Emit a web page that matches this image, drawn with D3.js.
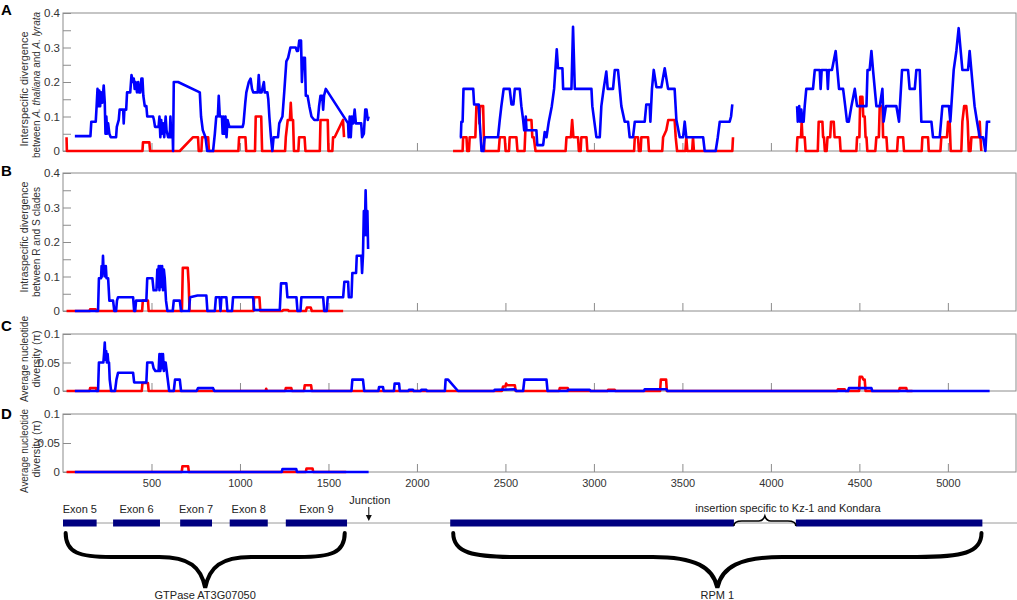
<!DOCTYPE html>
<html>
<head>
<meta charset="utf-8">
<script src="https://cdn.jsdelivr.net/npm/d3@7"></script>
<style>
  body { margin: 0; background: #fff; }
  text { font-family: "Liberation Sans", Arial, sans-serif; }
</style>
</head>
<body>
<svg id="chart" width="1017" height="600"></svg>
<script>
// ---- data: [position (bp), value] ----
const xTicks = [500, 1000, 1500, 2000, 2500, 3000, 3500, 4000, 4500, 5000];

// panel A, interspecific divergence (three aligned blocks)
const aBlue1 = [[67,0.043],[155,0.043],[160,0.085],[185,0.085],[190,0.13],[195,0.18],[200,0.13],[205,0.175],[210,0.13],[215,0.17],[222,0.14],[230,0.19],[236,0.14],[240,0.05],[245,0.1],[250,0.05],[255,0.08],[262,0.05],[270,0.04],[300,0.04],[304,0.07],[315,0.09],[320,0.12],[340,0.12],[343,0.08],[347,0.12],[357,0.12],[362,0.17],[380,0.17],[387,0.22],[395,0.2],[400,0.21],[405,0.18],[410,0.2],[418,0.17],[425,0.2],[430,0.17],[437,0.17],[443,0.21],[449,0.21],[454,0.16],[462,0.13],[471,0.13],[476,0.1],[509,0.1],[514,0.09],[520,0.07],[540,0.07],[545,0.1],[550,0.04],[555,0.09],[560,0.05],[565,0.08],[572,0.04],[580,0.1],[585,0.06],[594,0.04],[603,0.04],[607,0.1],[612,0.04],[620,0.04],[622,0],[626,0.2],[650,0.2],[773,0.17],[780,0.1],[790,0.06],[805,0.04],[815,0],[848,0],[858,0.05],[866,0.1],[875,0.1],[880,0.16],[886,0.1],[898,0.1],[902,0.05],[906,0.1],[912,0.05],[918,0.1],[924,0.04],[930,0.09],[940,0.07],[1015,0.07],[1020,0.08],[1030,0.14],[1036,0.17],[1050,0.2],[1060,0.21],[1068,0.18],[1075,0.17],[1100,0.17],[1106,0.22],[1112,0.17],[1122,0.17],[1135,0.2],[1140,0.17],[1155,0.17],[1160,0.15],[1166,0.1],[1175,0.04],[1183,0],[1190,0.04],[1215,0.04],[1222,0.08],[1240,0.1],[1250,0.17],[1262,0.26],[1272,0.27],[1285,0.3],[1315,0.3],[1322,0.29],[1328,0.29],[1335,0.32],[1345,0.32],[1350,0.2],[1357,0.27],[1367,0.27],[1372,0.16],[1382,0.16],[1392,0.13],[1404,0.1],[1420,0.09],[1440,0.09],[1447,0.13],[1455,0.16],[1465,0.16],[1470,0.12],[1475,0.16],[1485,0.18],[1611,0.08],[1614,0.04],[1620,0.1],[1626,0.04],[1632,0.1],[1640,0.08],[1648,0.12],[1655,0.08],[1685,0.08],[1690,0.04],[1700,0.05],[1708,0.12],[1715,0.12],[1722,0.09],[1727,0.1]];
const aBlue2 = [[2242,0.04],[2248,0.04],[2251,0.085],[2258,0.085],[2263,0.18],[2318,0.18],[2323,0.135],[2349,0.135],[2355,0.08],[2365,0],[2375,0],[2383,0.04],[2458,0.04],[2468,0.09],[2477,0.13],[2490,0.18],[2524,0.18],[2534,0.135],[2545,0.135],[2553,0.18],[2581,0.18],[2590,0.13],[2600,0.09],[2606,0.06],[2612,0.06],[2615,0.1],[2619,0.06],[2675,0.06],[2680,0.017],[2713,0.017],[2722,0.055],[2732,0.04],[2745,0.085],[2762,0.13],[2775,0.18],[2790,0.295],[2797,0.24],[2822,0.24],[2826,0.18],[2873,0.18],[2882,0.36],[2892,0.18],[2986,0.18],[2991,0.13],[3014,0.04],[3033,0.04],[3042,0.13],[3055,0.18],[3070,0.23],[3078,0.18],[3108,0.18],[3118,0.235],[3136,0.235],[3155,0.13],[3174,0.085],[3193,0.085],[3202,0.04],[3221,0.04],[3231,0.085],[3287,0.085],[3296,0.135],[3315,0.135],[3319,0.085],[3328,0.18],[3338,0.235],[3353,0.185],[3381,0.185],[3400,0.24],[3419,0.18],[3456,0.18],[3466,0.09],[3485,0.04],[3504,0.04],[3513,0.085],[3522,0.04],[3617,0.04],[3626,0],[3688,0],[3700,0.04],[3711,0.085],[3767,0.085],[3775,0.1],[3782,0.135]];
const aBlue3 = [[4148,0.13],[4152,0.085],[4160,0.13],[4165,0.085],[4172,0.12],[4178,0.085],[4185,0.085],[4191,0.13],[4200,0.18],[4238,0.18],[4248,0.235],[4276,0.235],[4281,0.18],[4287,0.235],[4317,0.235],[4322,0.18],[4327,0.235],[4345,0.235],[4366,0.29],[4385,0.18],[4408,0.18],[4420,0.13],[4430,0.085],[4440,0.085],[4455,0.13],[4474,0.18],[4487,0.13],[4540,0.13],[4546,0.235],[4558,0.235],[4568,0.29],[4577,0.235],[4596,0.13],[4615,0.13],[4630,0.18],[4637,0.085],[4650,0.13],[4709,0.13],[4724,0.085],[4741,0.235],[4775,0.235],[4784,0.18],[4813,0.18],[4822,0.235],[4841,0.235],[4850,0.085],[4907,0.085],[4916,0.04],[4954,0.04],[4969,0.13],[5006,0.13],[5014,0.085],[5033,0.235],[5048,0.29],[5061,0.356],[5082,0.235],[5114,0.235],[5123,0.29],[5142,0.18],[5151,0.13],[5165,0.085],[5180,0.04],[5199,0.04],[5212,0],[5221,0.085],[5240,0.085]];
const aRed1 = [[20,0.04],[22,0],[449,0],[452,0.025],[488,0.025],[492,0],[660,0],[735,0.04],[763,0.04],[767,0],[782,0],[786,0.04],[820,0.04],[825,0],[991,0],[995,0.04],[1031,0.04],[1035,0],[1085,0],[1089,0.1],[1120,0.1],[1125,0],[1255,0],[1259,0.04],[1270,0.09],[1282,0.09],[1287,0.14],[1292,0.09],[1300,0.09],[1305,0],[1330,0],[1334,0.04],[1365,0.04],[1370,0],[1451,0],[1455,0.09],[1496,0.09],[1500,0],[1522,0],[1526,0.04],[1535,0.04],[1582,0.09],[1588,0.04]];
const aRed2 = [[2204,0],[2258,0],[2261,0.04],[2280,0.04],[2284,0],[2294,0],[2298,0.04],[2317,0.04],[2330,0.04],[2336,0.13],[2350,0.13],[2353,0.08],[2357,0.13],[2374,0.13],[2380,0],[2462,0],[2468,0.04],[2496,0.04],[2501,0],[2520,0],[2524,0.04],[2562,0.04],[2568,0],[2608,0],[2615,0.09],[2647,0.09],[2652,0.04],[2660,0.04],[2670,0],[2840,0],[2845,0.04],[2863,0.04],[2870,0.04],[2877,0.09],[2884,0.04],[2910,0.04],[2915,0],[2925,0],[2929,0.04],[2958,0.04],[2963,0],[3227,0],[3231,0.04],[3249,0.04],[3254,0],[3264,0],[3268,0.04],[3306,0.04],[3311,0],[3386,0],[3391,0.04],[3409,0.06],[3420,0.09],[3456,0.09],[3462,0.04],[3470,0],[3517,0],[3522,0.04],[3528,0],[3555,0],[3560,0.04],[3565,0],[3782,0],[3786,0.04]];
const aRed3 = [[4140,0],[4146,0],[4150,0.04],[4170,0.04],[4174,0.085],[4178,0.04],[4191,0.04],[4196,0],[4265,0],[4270,0.085],[4291,0.085],[4295,0.04],[4300,0.04],[4305,0],[4315,0],[4320,0.04],[4335,0.04],[4340,0.085],[4355,0.085],[4360,0.04],[4389,0.04],[4394,0],[4483,0],[4487,0.04],[4500,0.04],[4505,0.157],[4517,0.157],[4522,0.1],[4530,0.1],[4535,0.04],[4540,0.04],[4545,0],[4590,0],[4596,0.04],[4610,0.04],[4615,0.13],[4630,0.13],[4634,0.04],[4653,0.04],[4658,0],[4713,0],[4718,0.04],[4747,0.04],[4752,0],[4852,0],[4856,0.04],[4888,0.04],[4892,0],[4958,0],[4963,0.04],[4995,0.04],[5001,0.085],[5010,0.085],[5016,0],[5076,0],[5082,0.085],[5092,0.13],[5104,0.13],[5112,0.085],[5118,0],[5128,0],[5133,0.04],[5176,0.04],[5180,0.085],[5184,0.04],[5189,0]];

// panel B, intraspecific divergence R vs S
const bBlue = [[67,0],[198,0],[203,0.095],[215,0.095],[218,0.13],[222,0.1],[226,0.16],[230,0.11],[234,0.13],[238,0.1],[242,0.13],[246,0.095],[255,0.095],[262,0.03],[283,0.03],[290,0],[300,0],[305,0.03],[311,0.04],[396,0.04],[402,0],[408,0],[413,0.03],[471,0.03],[476,0.095],[505,0.095],[512,0.06],[528,0.06],[533,0.12],[537,0.07],[541,0.13],[545,0.06],[550,0.13],[555,0.07],[560,0.13],[565,0.06],[570,0.12],[575,0.095],[582,0.03],[590,0],[620,0],[626,0.03],[660,0.03],[667,0],[712,0],[718,0.04],[760,0.045],[810,0.045],[816,0],[858,0],[864,0.04],[885,0.04],[890,0],[895,0.04],[923,0.04],[929,0],[955,0],[961,0.04],[1074,0.04],[1080,0.003],[1225,0.003],[1232,0.08],[1262,0.08],[1268,0.04],[1319,0.04],[1325,0],[1342,0],[1347,0.04],[1470,0.04],[1476,0],[1490,0],[1496,0.04],[1583,0.04],[1590,0.085],[1611,0.085],[1615,0.04],[1630,0.04],[1635,0.11],[1656,0.11],[1660,0.16],[1686,0.16],[1690,0.11],[1695,0.16],[1700,0.29],[1705,0.22],[1710,0.35],[1716,0.22],[1720,0.29],[1724,0.18]];
const bRed = [[20,0],[150,0],[153,0.005],[185,0.005],[188,0],[447,0],[451,0.03],[480,0.03],[484,0],[672,0],[677,0.125],[705,0.125],[710,0.08],[715,0],[1076,0],[1080,0.04],[1110,0.04],[1115,0],[1240,0],[1245,0.003],[1272,0.003],[1276,0],[1372,0],[1378,0.01],[1400,0.01],[1406,0],[1583,0]];

// panel C, nucleotide diversity
const cBlue = [[67,0],[198,0],[203,0.05],[228,0.05],[232,0.065],[236,0.085],[240,0.055],[244,0.07],[248,0.05],[252,0.065],[256,0.05],[260,0.05],[264,0.02],[272,0],[294,0],[302,0.02],[311,0.032],[396,0.032],[402,0.015],[471,0.015],[476,0.05],[505,0.05],[512,0.04],[522,0.035],[540,0.035],[545,0.065],[550,0.035],[555,0.065],[560,0.04],[565,0.065],[570,0.035],[575,0.05],[580,0.05],[600,0],[626,0],[633,0.02],[660,0.02],[667,0],[755,0],[763,0.005],[848,0.005],[855,0],[1630,0],[1635,0.02],[1695,0.02],[1702,0],[1782,0],[1786,0.007],[1808,0.007],[1812,0],[1870,0],[1874,0.013],[1899,0.013],[1903,0],[1952,0],[1955,0.002],[1978,0.002],[1982,0],[2022,0],[2025,0.002],[2053,0.002],[2057,0],[2158,0],[2162,0.02],[2176,0.02],[2232,0],[2436,0],[2439,0.002],[2553,0.003],[2562,0],[2600,0],[2607,0.02],[2732,0.02],[2738,0],[2850,0],[2854,0.002],[2976,0.002],[2982,0],[3283,0],[3287,0.003],[3410,0.003],[3416,0],[4436,0],[4441,0.005],[4568,0.005],[4573,0],[5236,0]];
const cRed = [[20,0],[150,0],[153,0.005],[187,0.005],[190,0],[445,0],[449,0.014],[480,0.014],[484,0],[1145,0],[1148,0.004],[1152,0],[1255,0],[1259,0.005],[1290,0.005],[1294,0],[1362,0],[1366,0.01],[1402,0.01],[1406,0],[2480,0],[2487,0.008],[2500,0.008],[2504,0.013],[2510,0.01],[2553,0.01],[2558,0],[2803,0],[2807,0.005],[2852,0.005],[2856,0],[3076,0],[3080,0.002],[3118,0.002],[3122,0],[3374,0],[3378,0.02],[3408,0.02],[3412,0],[4375,0],[4379,0.003],[4417,0.003],[4421,0],[4498,0],[4502,0.025],[4515,0.025],[4522,0.02],[4530,0.02],[4535,0],[4724,0],[4728,0.005],[4765,0.005],[4769,0],[4800,0]];

// panel D, nucleotide diversity
const dBlue = [[67,0],[1236,0],[1240,0.005],[1318,0.005],[1322,0],[1727,0]];
const dRed = [[20,0],[671,0],[675,0.01],[707,0.01],[711,0],[1372,0],[1376,0.006],[1410,0.006],[1414,0],[1600,0]];

// gene structure
const exonStarts = [0, 283, 662, 942, 1259];
const exonEnds = [190, 548, 842, 1157, 1605];
const exonLabels = ["Exon 5", "Exon 6", "Exon 7", "Exon 8", "Exon 9"];
const rpmStarts = [2188, 4141];
const rpmEnds = [3791, 5195];
const junctionPos = 1728;
const braceRanges = [[15, 1592], [2205, 5190]];
const braceLabels = ["GTPase AT3G07050", "RPM 1"];
const insertionRange = [3791, 4141];

// ---- drawing ----
const svg = d3.select("#chart");
const blue = "#0000ff", red = "#ff0000", frame = "#8c8c8c", ink = "#333";

const x = d3.scaleLinear().domain([0, 5385]).range([63, 1016]);

// title: two rotated lines; len = drawn length, cy = centre of each line
const panels = [
  { letter: "A", letterY: 15, top: 13, bottom: 151, max: 0.4, ticks: d3.range(0, 0.401, 0.05), labelEvery: 0.1,
    lines: [aRed1, aRed2, aRed3, aBlue1, aBlue2, aBlue3], colors: [red, red, red, blue, blue, blue],
    title: ["Interspecific divergence", "between |A. thaliana| and |A. lyrata|"], len: [115, 146], cy: [89, 85], xLabels: false },
  { letter: "B", letterY: 176, top: 173, bottom: 311, max: 0.4, ticks: d3.range(0, 0.401, 0.05), labelEvery: 0.1,
    lines: [bRed, bBlue], colors: [red, blue],
    title: ["Intraspecific divergence", "between R and S clades"], len: [111, 110], cy: [237, 242], xLabels: false },
  { letter: "C", letterY: 331, top: 334, bottom: 391, max: 0.1, ticks: [0, 0.05, 0.1], labelEvery: 0.05,
    lines: [cRed, cBlue], colors: [red, blue],
    title: ["Average nucleotide", "diversity (\u03c0)"], len: [86, 57], cy: [359, 359], xLabels: false },
  { letter: "D", letterY: 419, top: 414, bottom: 472, max: 0.1, ticks: [0, 0.05, 0.1], labelEvery: 0.05,
    lines: [dRed, dBlue], colors: [red, blue],
    title: ["Average nucleotide", "diversity (\u03c0)"], len: [84, 57], cy: [451, 449], xLabels: true }
];

const fmt = v => {
  const r = Math.round(v * 1000) / 1000;
  return r === 0 ? "0" : String(r);
};

panels.forEach(p => {
  const y = d3.scaleLinear().domain([0, p.max]).range([p.bottom, p.top]);
  const g = svg.append("g");

  // frame
  g.append("rect")
    .attr("x", x.range()[0]).attr("y", p.top)
    .attr("width", x.range()[1] - x.range()[0]).attr("height", p.bottom - p.top)
    .attr("fill", "none").attr("stroke", frame).attr("stroke-width", 1);

  // y axis, ticks pointing inward
  const yAxis = d3.axisLeft(y)
    .tickValues(p.ticks)
    .tickSizeInner(-8).tickSizeOuter(0).tickPadding(3)
    .tickFormat(v => {
      const k = v / p.labelEvery;
      return Math.abs(k - Math.round(k)) < 1e-6 ? fmt(v) : "";
    });
  const ya = g.append("g").attr("transform", `translate(${x.range()[0]},0)`).call(yAxis);
  ya.select(".domain").remove();
  ya.selectAll("line").attr("stroke", frame);
  ya.selectAll("text").attr("fill", ink).style("font-size", "11.5px")
    .style("font-family", '"Liberation Sans", Arial, sans-serif');

  // x axis ticks
  const xAxis = d3.axisBottom(x)
    .tickValues(xTicks)
    .tickSizeInner(-8).tickSizeOuter(0).tickPadding(7)
    .tickFormat(p.xLabels ? d3.format("d") : () => "");
  const xa = g.append("g").attr("transform", `translate(0,${p.bottom})`).call(xAxis);
  xa.select(".domain").remove();
  xa.selectAll("line").attr("stroke", frame);
  xa.selectAll("text").attr("fill", ink).style("font-size", "11px")
    .style("font-family", '"Liberation Sans", Arial, sans-serif');

  // series
  const line = d3.line().x(d => x(d[0])).y(d => y(d[1]));
  p.lines.forEach((series, i) => {
    g.append("path")
      .datum(series)
      .attr("d", line)
      .attr("fill", "none")
      .attr("stroke", p.colors[i])
      .attr("stroke-width", 2.6)
      .attr("stroke-linejoin", "round");
  });

  // panel letter
  g.append("text")
    .attr("x", 1).attr("y", p.letterY)
    .style("font-size", "15px").style("font-weight", "bold")
    .attr("fill", "#000")
    .text(p.letter);

  // rotated y label, two lines, |...| marks italic
  p.title.forEach((t, li) => {
    const tx = g.append("text")
      .attr("transform", `translate(${28 + li * 11.5},${p.cy[li]}) rotate(-90)`)
      .attr("text-anchor", "middle")
      .attr("fill", ink)
      .attr("textLength", p.len[li])
      .attr("lengthAdjust", "spacingAndGlyphs")
      .style("font-size", "11px");
    t.split("|").forEach((part, k) => {
      tx.append("tspan").style("font-style", k % 2 ? "italic" : "normal").text(part);
    });
  });
});

// ---- gene structure ----
const geneY = 523;
const gs = svg.append("g");
gs.append("line")
  .attr("x1", x(0)).attr("x2", 1017)
  .attr("y1", geneY).attr("y2", geneY)
  .attr("stroke", "#9a9a9a").attr("stroke-width", 1);

const exonFill = "#000080";
gs.selectAll(".exon").data(exonStarts).enter().append("rect")
  .attr("x", (d) => x(d)).attr("y", geneY - 3.5)
  .attr("width", (d, i) => x(exonEnds[i]) - x(d)).attr("height", 7)
  .attr("fill", exonFill);
gs.selectAll(".exonLabel").data(exonLabels).enter().append("text")
  .attr("x", (d, i) => (x(exonStarts[i]) + x(exonEnds[i])) / 2)
  .attr("y", geneY - 10)
  .attr("text-anchor", "middle").attr("fill", "#222")
  .style("font-size", "11px")
  .text(d => d);

gs.selectAll(".rpm").data(rpmStarts).enter().append("rect")
  .attr("x", d => x(d)).attr("y", geneY - 3.5)
  .attr("width", (d, i) => x(rpmEnds[i]) - x(d)).attr("height", 7)
  .attr("fill", exonFill);

// junction arrow
const jx = x(junctionPos);
gs.append("text").attr("x", jx + 1).attr("y", 504)
  .attr("text-anchor", "middle").attr("fill", "#222").style("font-size", "11px")
  .text("Junction");
gs.append("line").attr("x1", jx).attr("x2", jx).attr("y1", 507).attr("y2", 517)
  .attr("stroke", "#111").attr("stroke-width", 1);
gs.append("path")
  .attr("d", `M${jx - 3},${515} L${jx + 3},${515} L${jx},${521} Z`)
  .attr("fill", "#111");

// big braces under the genes
function bracePath(x0, x1, yTop, yMid, yTip) {
  const m = (x0 + x1) / 2;
  const k = 25 + 0.075 * (x1 - x0);
  return `M${x0},${yTop} C${x0},${yMid - 4} ${x0 + k * 0.3},${yMid} ${x0 + k},${yMid}` +
    ` L${m - k},${yMid} C${m - k * 0.35},${yMid} ${m - 4},${yMid + 10} ${m},${yTip}` +
    ` C${m + 4},${yMid + 10} ${m + k * 0.35},${yMid} ${m + k},${yMid}` +
    ` L${x1 - k},${yMid} C${x1 - k * 0.3},${yMid} ${x1},${yMid - 4} ${x1},${yTop}`;
}
braceRanges.forEach((r, i) => {
  const x0 = x(r[0]), x1 = x(r[1]);
  gs.append("path")
    .attr("d", bracePath(x0, x1, 533, 557, 588))
    .attr("fill", "none").attr("stroke", "#000").attr("stroke-width", 4)
    .attr("stroke-linecap", "round");
  gs.append("text")
    .attr("x", (x0 + x1) / 2).attr("y", 599)
    .attr("text-anchor", "middle").attr("fill", "#222").style("font-size", "11px")
    .text(braceLabels[i]);
});

// small brace over the insertion
{
  const x0 = x(insertionRange[0]), x1 = x(insertionRange[1]);
  const m = (x0 + x1) / 2;
  gs.append("path")
    .attr("d", `M${x0},${geneY + 3} C${x0},${geneY - 1} ${x0 + 3},${geneY - 2} ${x0 + 8},${geneY - 2}` +
      ` L${m - 6},${geneY - 2} C${m - 2},${geneY - 2} ${m - 1},${geneY - 4} ${m},${geneY - 7}` +
      ` C${m + 1},${geneY - 4} ${m + 2},${geneY - 2} ${m + 6},${geneY - 2}` +
      ` L${x1 - 8},${geneY - 2} C${x1 - 3},${geneY - 2} ${x1},${geneY - 1} ${x1},${geneY + 3}`)
    .attr("fill", "none").attr("stroke", "#000").attr("stroke-width", 1.6);
  gs.append("text")
    .attr("x", m + 23).attr("y", 512)
    .attr("text-anchor", "middle").attr("fill", "#222").style("font-size", "11px")
    .text("insertion specific to Kz-1 and Kondara");
}
</script>
</body>
</html>
